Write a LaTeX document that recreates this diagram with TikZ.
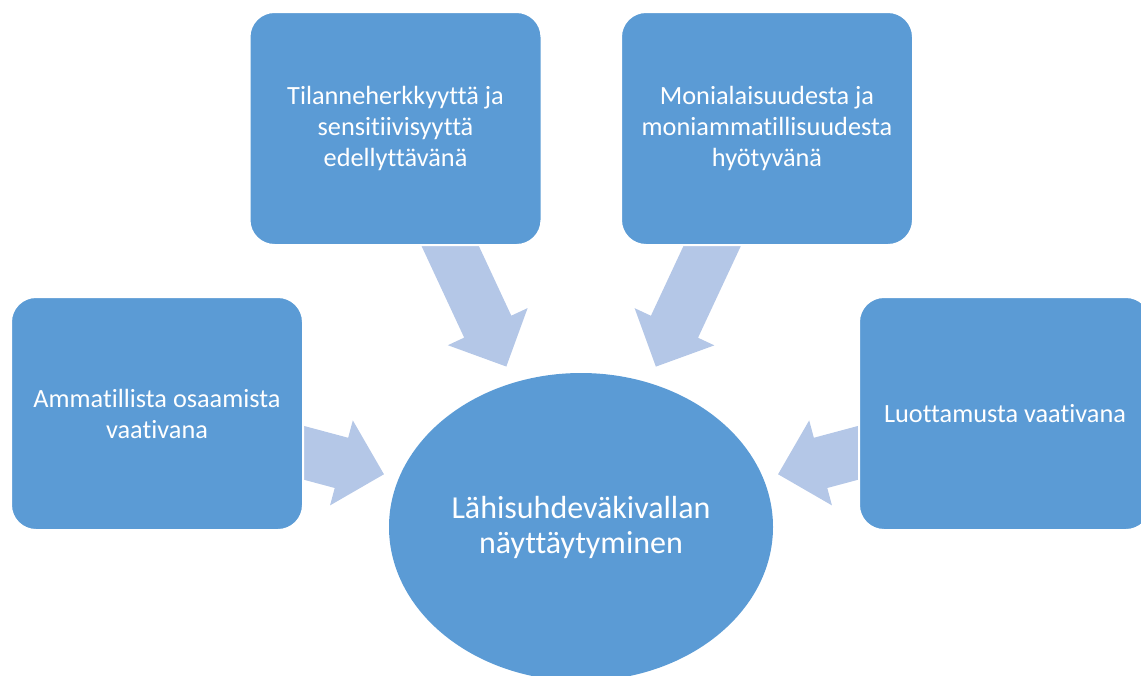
\documentclass[tikz,border=0pt]{standalone}
\usepackage{fontspec}
\setmainfont{Carlito}[Ligatures={NoCommon}]
\usetikzlibrary{shapes.geometric,calc,backgrounds}
\definecolor{boxblue}{HTML}{5B9BD5}
\definecolor{arrblue}{HTML}{B4C7E7}
\newcommand{\blockarr}[2]{%
  \fill[arrowfill] (#1)
   -- ($(#1)!62.23pt!45:(#2)$)
   -- ($(#1)!51.11pt!30.58:(#2)$)
   -- ($(#1)!152.24pt!9.83:(#2)$)
   -- ($(#1)!152.24pt!-9.83:(#2)$)
   -- ($(#1)!51.11pt!-30.58:(#2)$)
   -- ($(#1)!62.23pt!-45:(#2)$)
   -- cycle;}
\tikzset{
  box/.style={draw=white, line width=2pt, fill=boxblue, rounded corners=25pt,
    minimum width=292pt, minimum height=233pt, inner sep=0pt, text=white,
    align=center, font=\fontsize{26.3}{31}\selectfont},
  centre/.style={ellipse, fill=boxblue, minimum width=384pt, minimum height=308pt,
    inner sep=0pt, text=white, align=center, font=\fontsize{32}{35}\selectfont},
  arrowfill/.style={fill=arrblue}
}
\begin{document}
\begin{tikzpicture}[x=1pt,y=-1pt]
\useasboundingbox (0,0) rectangle (1141,675);
\clip (0,0) rectangle (1141,675);
\node[centre] (e) at (581,527) {Lähisuhdeväkivallan\\näyttäytyminen};
\node[box] (tl) at (395.5,128.5) {Tilanneherkkyyttä ja\\sensitiivisyyttä\\edellyttävänä};
\node[box] (tr) at (767,128.5) {Monialaisuudesta ja\\moniammatillisuudesta\\hyötyvänä};
\node[box] (ml) at (157,413.5) {Ammatillista osaamista\\vaativana};
\node[box] (mr) at (1005,413.5) {Luottamusta vaativana};
\coordinate (ttl) at ($(e.center)!177pt!(tl.center)$);
\coordinate (ttr) at ($(e.center)!177pt!(tr.center)$);
\coordinate (tml) at ($(e.center)!204pt!(ml.center)$);
\coordinate (tmr) at ($(e.center)!204pt!(mr.center)$);
\begin{scope}[on background layer]
\blockarr{ttl}{tl.center}
\blockarr{ttr}{tr.center}
\blockarr{tml}{ml.center}
\blockarr{tmr}{mr.center}
\end{scope}
\end{tikzpicture}
\end{document}
